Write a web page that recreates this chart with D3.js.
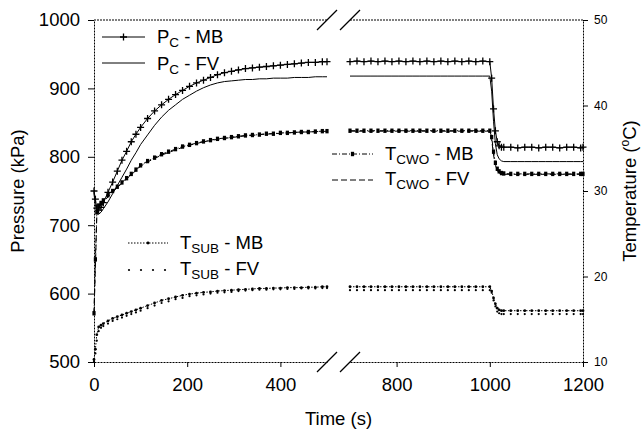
<!DOCTYPE html>
<html>
<head>
<meta charset="utf-8">
<script src="https://cdn.jsdelivr.net/npm/d3@7/dist/d3.min.js"></script>
<style>
  body { margin: 0; background: #fff; }
  svg { display: block; font-family: Arial, "Liberation Sans", sans-serif; }
</style>
</head>
<body>
<svg id="chart" width="644" height="432"></svg>
<script>
// ─── data ─────────────────────────────────────────────────────
// time (s), left panel (0-500) and right panel (700-1200) of the broken axis
const tLeft = [0,3,6,10,15,20,30,40,50,60,70,80,90,100,115,130,145,160,175,190,205,220,235,250,265,280,295,310,325,340,355,370,385,400,415,430,445,460,475,490,500];
const tRight = [700,715,730,745,760,775,790,805,820,835,850,865,880,895,910,925,940,955,970,985,1000,1004,1008,1012,1016,1020,1025,1030,1045,1060,1075,1090,1105,1120,1135,1150,1165,1180,1195,1200];

// condenser pressure P_C (kPa)
const pcMB_L = [750,738,725,722,726,733,748,763,779,795,808,822,833,843,856,867,876,884,891,897,903,908,912,916,920,923,925,927,929,930,931,932,933,934,935,936,937,938,938,939,939];
const pcFV_L = [745,730,718,716,719,724,734,746,758,770,782,795,806,818,832,846,858,868,876,884,890,896,901,905,908,910,911,912,913,913,914,914,915,915,915,916,916,916,917,917,917];
const pcMB_R = [939,940,939,940,939,940,939,940,939,940,939,940,939,940,939,940,939,940,939,940,939,915,870,838,822,816,814,814,814,813,814,814,813,814,814,813,814,814,813,814];
const pcFV_R = [918,918,918,918,918,918,918,918,918,918,918,918,918,918,918,918,918,918,918,918,918,896,852,819,803,797,794,793,793,793,793,793,793,793,793,793,793,793,793,793];

// cooling water outlet temperature T_CWO (°C)
const tcMB_L = [15.7,22.0,27.5,28.3,28.6,28.9,29.5,30.0,30.5,31.0,31.5,32.0,32.5,33.0,33.5,33.9,34.3,34.6,34.9,35.2,35.4,35.6,35.8,35.95,36.1,36.2,36.3,36.4,36.5,36.55,36.6,36.7,36.7,36.8,36.8,36.85,36.9,36.9,36.95,37.0,37.0];
const tcFV_L = [15.7,21.0,27.0,28.0,28.4,28.7,29.3,29.9,30.4,30.9,31.4,31.9,32.4,32.9,33.4,33.8,34.2,34.5,34.8,35.1,35.35,35.55,35.75,35.9,36.05,36.15,36.25,36.35,36.45,36.5,36.6,36.65,36.7,36.75,36.8,36.85,36.9,36.9,36.95,36.95,37.0];
const tcMB_R = [37.05,37.05,37.05,37.05,37.05,37.05,37.05,37.05,37.05,37.05,37.05,37.05,37.05,37.05,37.05,37.05,37.05,37.05,37.05,37.05,37.05,36.3,34.6,33.3,32.6,32.3,32.1,32.05,32.0,32.0,32.0,32.0,32.0,32.0,32.0,32.0,32.0,32.0,32.0,32.0];
const tcFV_R = [37.0,37.0,37.0,37.0,37.0,37.0,37.0,37.0,37.0,37.0,37.0,37.0,37.0,37.0,37.0,37.0,37.0,37.0,37.0,37.0,37.0,36.0,34.2,33.0,32.4,32.1,32.0,31.95,31.95,31.95,31.95,31.95,31.95,31.95,31.95,31.95,31.95,31.95,31.95,31.95];

// substrate temperature T_SUB (°C)
const tsMB_L = [10.3,11.5,13.2,14.1,14.3,14.5,14.8,15.1,15.3,15.5,15.7,15.9,16.1,16.3,16.6,16.9,17.2,17.4,17.6,17.8,17.95,18.05,18.15,18.2,18.3,18.35,18.4,18.45,18.5,18.55,18.6,18.6,18.65,18.65,18.7,18.7,18.7,18.75,18.75,18.8,18.8];
const tsFV_L = [10.1,11.0,12.5,13.6,14.0,14.2,14.5,14.8,15.0,15.2,15.4,15.6,15.8,16.0,16.3,16.6,16.9,17.1,17.35,17.5,17.7,17.8,17.9,18.0,18.1,18.15,18.2,18.3,18.35,18.4,18.45,18.45,18.5,18.5,18.55,18.55,18.6,18.6,18.6,18.65,18.65];
const tsMB_R = [18.8,18.8,18.8,18.8,18.8,18.8,18.8,18.8,18.8,18.8,18.8,18.8,18.8,18.8,18.8,18.8,18.8,18.8,18.8,18.8,18.8,18.3,17.5,16.8,16.3,16.1,16.0,16.0,16.0,16.0,16.0,16.0,16.0,16.0,16.0,16.0,16.0,16.0,16.0,16.0];
const tsFV_R = [18.4,18.4,18.4,18.4,18.4,18.4,18.4,18.4,18.4,18.4,18.4,18.4,18.4,18.4,18.4,18.4,18.4,18.4,18.4,18.4,18.4,18.1,17.2,16.5,15.9,15.7,15.6,15.6,15.6,15.6,15.6,15.6,15.6,15.6,15.6,15.6,15.6,15.6,15.6,15.6];

// axis ticks
const xTicksL = [0, 200, 400];
const xTicksR = [800, 1000, 1200];
const pTicks = [500, 600, 700, 800, 900, 1000];
const tTicks = [10, 20, 30, 40, 50];

// ─── scales ───────────────────────────────────────────────────
const svg = d3.select('#chart');
const xL = d3.scaleLinear().domain([0, 500]).range([94, 327]);
const xR = d3.scaleLinear().domain([700, 1200]).range([350, 583]);
const yP = d3.scaleLinear().domain([500, 1000]).range([362, 20]);
const yT = d3.scaleLinear().domain([10, 50]).range([362, 20]);
const plotTop = 20, plotBottom = 362;
const fmt = d3.format('d');

const series = [
  { key: 'pcMB', y: yP, L: pcMB_L, R: pcMB_R, dash: null, marker: 'plus', line: true },
  { key: 'pcFV', y: yP, L: pcFV_L, R: pcFV_R, dash: null, marker: null, line: true },
  { key: 'tcMB', y: yT, L: tcMB_L, R: tcMB_R, dash: '5,2,1,2', marker: 'square', line: true },
  { key: 'tcFV', y: yT, L: tcFV_L, R: tcFV_R, dash: '6,3', marker: null, line: true },
  { key: 'tsMB', y: yT, L: tsMB_L, R: tsMB_R, dash: '1.5,1.5', marker: 'dot', line: true },
  { key: 'tsFV', y: yT, L: tsFV_L, R: tsFV_R, dash: null, marker: 'fvdot', line: false }
];

function drawMarker(g, type, x, y) {
  if (type === 'plus') {
    g.append('path').attr('d', `M${x-3.5},${y}H${x+3.5}M${x},${y-3.5}V${y+3.5}`)
      .attr('stroke', '#000').attr('stroke-width', 1.3);
  } else if (type === 'square') {
    g.append('rect').attr('x', x - 1.6).attr('y', y - 2.2).attr('width', 3.2).attr('height', 4.4).attr('fill', '#000');
  } else if (type === 'dot') {
    g.append('circle').attr('cx', x).attr('cy', y).attr('r', 1.4).attr('fill', '#000');
  } else if (type === 'fvdot') {
    g.append('circle').attr('cx', x).attr('cy', y).attr('r', 1.1).attr('fill', '#000');
  }
}

// ─── data ─────────────────────────────────────────────────────
const dataG = svg.append('g');
series.forEach(s => {
  [[tLeft, s.L, xL], [tRight, s.R, xR]].forEach(([ts, vs, xs]) => {
    const pts = ts.map((t, i) => [xs(t), s.y(vs[i])]);
    if (s.line) {
      dataG.append('path')
        .attr('d', d3.line()(pts))
        .attr('fill', 'none')
        .attr('stroke', '#000')
        .attr('stroke-width', 1)
        .attr('stroke-dasharray', s.dash);
    }
    if (s.marker) pts.forEach(p => drawMarker(dataG, s.marker, p[0], p[1]));
  });
});

// ─── axes ─────────────────────────────────────────────────────
function styleAxis(g, size) {
  g.selectAll('text').attr('font-size', size).attr('fill', '#000')
    .attr('font-family', 'Arial, "Liberation Sans", sans-serif');
  g.selectAll('line').attr('stroke', '#000');
  g.select('.domain').attr('stroke', '#000').attr('stroke-dasharray', '2,1');
}

svg.append('g').attr('transform', `translate(${xL(0)},0)`)
  .call(d3.axisLeft(yP).tickValues(pTicks).tickFormat(fmt).tickSize(6).tickSizeOuter(0).tickPadding(8))
  .call(g => styleAxis(g, 18.5));

svg.append('g').attr('transform', `translate(${xR(1200)},0)`)
  .call(d3.axisRight(yT).tickValues(tTicks).tickFormat(fmt).tickSize(5).tickSizeOuter(0).tickPadding(6))
  .call(g => styleAxis(g, 12));

svg.append('g').attr('transform', `translate(0,${plotBottom})`)
  .call(d3.axisBottom(xL).tickValues(xTicksL).tickFormat(fmt).tickSize(5).tickSizeOuter(0).tickPadding(11))
  .call(g => styleAxis(g, 18.5));

svg.append('g').attr('transform', `translate(0,${plotBottom})`)
  .call(d3.axisBottom(xR).tickValues(xTicksR).tickFormat(fmt).tickSize(5).tickSizeOuter(0).tickPadding(11))
  .call(g => styleAxis(g, 18.5));

// top frame, split at the break
[xL.range(), xR.range()].forEach(r => {
  svg.append('line').attr('x1', r[0]).attr('x2', r[1]).attr('y1', plotTop).attr('y2', plotTop)
    .attr('stroke', '#000').attr('stroke-dasharray', '2,1');
});

// break marks
[xL(500), xR(700)].forEach(bx => {
  [plotTop, plotBottom].forEach(by => {
    svg.append('line').attr('x1', bx - 10).attr('y1', by + 10).attr('x2', bx + 10).attr('y2', by - 10)
      .attr('stroke', '#000').attr('stroke-width', 1.3);
  });
});

// axis titles
svg.append('text').attr('transform', 'translate(24,191) rotate(-90)')
  .attr('text-anchor', 'middle').attr('font-size', 18.5).text('Pressure (kPa)');

svg.append('text').attr('x', 338.5).attr('y', 425)
  .attr('text-anchor', 'middle').attr('font-size', 18.5).text('Time (s)');

const tTitle = svg.append('text').attr('transform', 'translate(636,191) rotate(-90)')
  .attr('text-anchor', 'middle').attr('font-size', 18.5);
tTitle.append('tspan').text('Temperature (');
tTitle.append('tspan').attr('font-size', 12).attr('dy', -7).text('o');
tTitle.append('tspan').attr('dy', 7).text('C)');

// ─── legend ───────────────────────────────────────────────────
const legend = [
  { key: 'pcMB', main: 'P', sub: 'C', tail: ' - MB', x0: 102, x1: 145, ly: 37, ty: 43 },
  { key: 'pcFV', main: 'P', sub: 'C', tail: ' - FV', x0: 102, x1: 145, ly: 63, ty: 70 },
  { key: 'tcMB', main: 'T', sub: 'CWO', tail: ' - MB', x0: 332, x1: 373, ly: 154, ty: 160 },
  { key: 'tcFV', main: 'T', sub: 'CWO', tail: ' - FV', x0: 332, x1: 373, ly: 180, ty: 185 },
  { key: 'tsMB', main: 'T', sub: 'SUB', tail: ' - MB', x0: 128, x1: 168, ly: 243, ty: 249 },
  { key: 'tsFV', main: 'T', sub: 'SUB', tail: ' - FV', x0: 128, x1: 168, ly: 270, ty: 275 }
];

const legG = svg.append('g');
legend.forEach(d => {
  const s = series.find(v => v.key === d.key);
  if (s.line) {
    legG.append('line').attr('x1', d.x0).attr('x2', d.x1).attr('y1', d.ly).attr('y2', d.ly)
      .attr('stroke', '#000').attr('stroke-dasharray', s.dash);
    if (s.marker) drawMarker(legG, s.marker, (d.x0 + d.x1) / 2, d.ly);
  } else {
    d3.range(4).forEach(i => drawMarker(legG, s.marker, d.x0 + 1 + i * 12, d.ly));
  }
  const t = legG.append('text').attr('x', d.x1 + 12).attr('y', d.ty).attr('font-size', 18.5);
  t.append('tspan').text(d.main);
  t.append('tspan').attr('font-size', 13.5).attr('dy', 4).text(d.sub);
  t.append('tspan').attr('dy', -4).text(d.tail);
});
</script>
</body>
</html>
